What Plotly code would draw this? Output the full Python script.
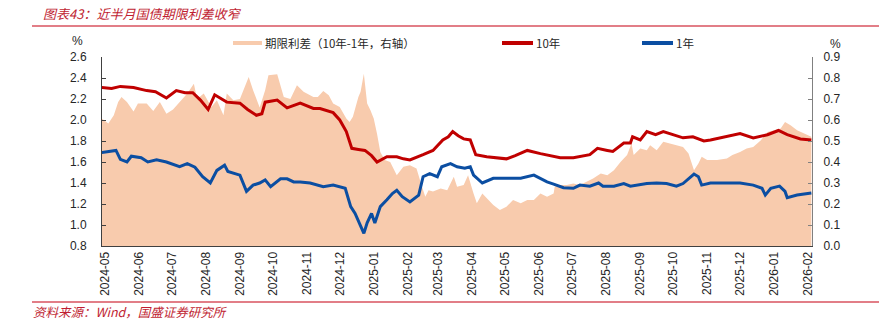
import plotly.graph_objects as go

# ---------------- data ----------------
dates_10y = ["2024-04-28","2024-05-07","2024-05-15","2024-05-27","2024-06-08","2024-06-16","2024-06-26",
             "2024-07-05","2024-07-13","2024-07-20","2024-07-27","2024-08-03","2024-08-09","2024-08-20",
             "2024-09-01","2024-09-08","2024-09-16","2024-09-21","2024-09-24","2024-10-05","2024-10-14",
             "2024-10-26","2024-11-07","2024-11-13","2024-11-25","2024-12-01","2024-12-07","2024-12-12",
             "2024-12-18","2024-12-24","2024-12-30","2025-01-04","2025-01-13","2025-01-22","2025-01-28",
             "2025-02-03","2025-02-15","2025-02-24","2025-03-05","2025-03-10","2025-03-14","2025-03-19",
             "2025-03-24","2025-03-30","2025-04-04","2025-04-14","2025-05-02","2025-05-10","2025-05-21",
             "2025-05-26","2025-06-02","2025-06-20","2025-07-02","2025-07-17","2025-07-24","2025-08-02",
             "2025-08-07","2025-08-17","2025-08-23","2025-08-25","2025-09-01","2025-09-07","2025-09-15",
             "2025-09-22","2025-10-01","2025-10-10","2025-10-19","2025-10-29","2025-11-04","2025-11-22",
             "2025-12-01","2025-12-13","2025-12-26","2026-01-05","2026-01-13","2026-01-25","2026-02-04"]
yield_10y = [2.31,2.30,2.32,2.31,2.28,2.27,2.21,
             2.28,2.26,2.26,2.19,2.10,2.24,2.17,
             2.16,2.10,2.045,2.06,2.17,2.19,2.115,
             2.16,2.11,2.11,2.07,2.00,1.89,1.73,
             1.72,1.71,1.66,1.60,1.65,1.65,1.63,
             1.62,1.67,1.71,1.81,1.84,1.89,1.85,
             1.82,1.81,1.67,1.65,1.63,1.66,1.71,
             1.70,1.68,1.64,1.64,1.67,1.73,1.71,
             1.70,1.78,1.78,1.84,1.81,1.89,1.86,
             1.89,1.86,1.83,1.84,1.80,1.81,1.85,
             1.87,1.83,1.86,1.90,1.86,1.82,1.81]

dates_1y = ["2024-04-28","2024-05-07","2024-05-11","2024-05-15","2024-05-21","2024-05-25","2024-06-03",
            "2024-06-09","2024-06-17","2024-06-26","2024-06-29","2024-07-08","2024-07-15","2024-07-22",
            "2024-07-29","2024-08-05","2024-08-11","2024-08-18","2024-08-21","2024-09-01","2024-09-07",
            "2024-09-13","2024-09-19","2024-09-24","2024-09-29","2024-10-08","2024-10-14","2024-10-20",
            "2024-10-26","2024-11-04","2024-11-16","2024-11-25","2024-12-06","2024-12-11","2024-12-15",
            "2024-12-20","2024-12-23","2024-12-26","2024-12-30","2025-01-02","2025-01-07","2025-01-13",
            "2025-01-18","2025-01-22","2025-01-27","2025-02-03","2025-02-11","2025-02-15","2025-02-21",
            "2025-02-28","2025-03-04","2025-03-12","2025-03-18","2025-03-25","2025-03-30","2025-04-02",
            "2025-04-10","2025-04-20","2025-05-02","2025-05-15","2025-05-27","2025-06-08","2025-06-14",
            "2025-06-23","2025-07-02","2025-07-08","2025-07-17","2025-07-25","2025-07-29","2025-08-08",
            "2025-08-17","2025-08-23","2025-09-07","2025-09-16","2025-09-25","2025-10-04","2025-10-10",
            "2025-10-16","2025-10-20","2025-10-24","2025-10-27","2025-11-04","2025-12-01","2025-12-13",
            "2025-12-21","2025-12-24","2025-12-29","2026-01-06","2026-01-11","2026-01-13","2026-01-22",
            "2026-02-04"]
yield_1y = [1.69,1.70,1.71,1.625,1.60,1.655,1.64,
            1.60,1.62,1.60,1.59,1.555,1.585,1.55,
            1.46,1.40,1.52,1.57,1.51,1.475,1.32,
            1.38,1.40,1.43,1.365,1.44,1.44,1.41,
            1.41,1.40,1.365,1.38,1.35,1.175,1.11,
            1.00,0.92,1.02,1.11,1.02,1.175,1.24,
            1.30,1.33,1.27,1.22,1.285,1.46,1.49,
            1.46,1.555,1.585,1.555,1.54,1.555,1.475,
            1.40,1.445,1.445,1.445,1.475,1.41,1.39,
            1.355,1.35,1.38,1.37,1.40,1.37,1.37,
            1.395,1.37,1.395,1.40,1.395,1.37,1.395,
            1.445,1.485,1.46,1.38,1.40,1.40,1.38,
            1.35,1.285,1.35,1.37,1.32,1.26,1.285,
            1.305]

dates_spread = ["2024-04-28","2024-05-04","2024-05-09","2024-05-13","2024-05-16","2024-05-21","2024-05-27",
                "2024-05-31","2024-06-08","2024-06-14","2024-06-20","2024-06-26","2024-07-02","2024-07-08",
                "2024-07-15","2024-07-21","2024-07-24","2024-07-30","2024-08-06","2024-08-11","2024-08-17",
                "2024-08-20","2024-08-26","2024-09-01","2024-09-09","2024-09-13","2024-09-19","2024-09-24",
                "2024-09-27","2024-10-05","2024-10-11","2024-10-17","2024-10-23","2024-10-29","2024-11-07",
                "2024-11-11","2024-11-16","2024-11-21","2024-11-25","2024-12-01","2024-12-07","2024-12-10",
                "2024-12-13","2024-12-18","2024-12-20","2024-12-23","2024-12-26","2024-12-29","2025-01-01",
                "2025-01-04","2025-01-07","2025-01-11","2025-01-16","2025-01-22","2025-01-28","2025-02-03",
                "2025-02-09","2025-02-14","2025-02-17","2025-02-20","2025-02-24","2025-03-03","2025-03-09",
                "2025-03-15","2025-03-18","2025-03-24","2025-03-28","2025-04-02","2025-04-05","2025-04-10",
                "2025-04-14","2025-04-20","2025-04-26","2025-05-02","2025-05-08","2025-05-15","2025-05-21",
                "2025-05-27","2025-06-02","2025-06-08","2025-06-14","2025-06-15","2025-06-20","2025-06-26",
                "2025-07-02","2025-07-08","2025-07-14","2025-07-20","2025-07-27","2025-08-02","2025-08-08",
                "2025-08-14","2025-08-20","2025-08-24","2025-08-26","2025-09-01","2025-09-07","2025-09-10",
                "2025-09-16","2025-09-22","2025-09-28","2025-10-04","2025-10-10","2025-10-15","2025-10-20",
                "2025-10-24","2025-10-27","2025-11-01","2025-11-10","2025-11-19","2025-11-24","2025-12-01",
                "2025-12-07","2025-12-13","2025-12-20","2025-12-26","2026-01-01","2026-01-07","2026-01-11",
                "2026-01-16","2026-01-22","2026-01-28","2026-02-04"]
spread = [0.607,0.583,0.623,0.686,0.71,0.686,0.64,
          0.678,0.678,0.643,0.686,0.63,0.65,0.686,
          0.726,0.773,0.70,0.726,0.662,0.694,0.623,
          0.726,0.694,0.70,0.805,0.742,0.66,0.742,
          0.813,0.818,0.71,0.70,0.765,0.734,0.71,
          0.71,0.738,0.718,0.678,0.662,0.607,0.59,
          0.615,0.71,0.734,0.82,0.678,0.647,0.607,
          0.535,0.448,0.409,0.40,0.337,0.377,0.385,
          0.369,0.282,0.234,0.266,0.26,0.274,0.266,
          0.33,0.282,0.29,0.337,0.25,0.203,0.25,
          0.227,0.195,0.171,0.187,0.219,0.203,0.219,
          0.219,0.25,0.234,0.25,0.282,0.29,0.29,
          0.298,0.29,0.306,0.322,0.345,0.337,0.361,
          0.40,0.433,0.488,0.433,0.464,0.456,0.48,
          0.456,0.496,0.488,0.48,0.472,0.44,0.361,
          0.393,0.425,0.41,0.41,0.417,0.433,0.448,
          0.464,0.472,0.504,0.543,0.551,0.559,0.59,
          0.575,0.551,0.535,0.52]

tick_dates = ["2024-05-01","2024-06-01","2024-07-01","2024-08-01","2024-09-01","2024-10-01","2024-11-01",
              "2024-12-01","2025-01-01","2025-02-01","2025-03-01","2025-04-01","2025-05-01","2025-06-01",
              "2025-07-01","2025-08-01","2025-09-01","2025-10-01","2025-11-01","2025-12-01","2026-01-01",
              "2026-02-01"]
tick_labels = [d[:7] for d in tick_dates]

names = ["期限利差（10年-1年，右轴）", "10年", "1年"]
title_text = "图表43：近半月国债期限利差收窄"
source_text = "资料来源：Wind，国盛证券研究所"

# ---------------- styles ----------------
C_AREA = "#F8CBAD"
C_10Y = "#C00000"
C_1Y = "#0B4EA2"
C_TITLE = "#C01E32"
C_RULE = "#D9535F"
TICK_FONT = dict(family="Liberation Sans, DejaVu Sans", size=12, color="#262626")
CJK = "Noto Sans CJK SC"

fig = go.Figure()
# area on the primary (right-hand) axis so the lines overlay it
fig.add_trace(go.Scatter(x=dates_spread, y=spread, name=names[0], mode="lines",
                         line=dict(width=0, color=C_AREA), fill="tozeroy", fillcolor=C_AREA,
                         yaxis="y", showlegend=False))
fig.add_trace(go.Scatter(x=dates_10y, y=yield_10y, name=names[1], mode="lines",
                         line=dict(width=3, color=C_10Y), yaxis="y2", showlegend=False))
fig.add_trace(go.Scatter(x=dates_1y, y=yield_1y, name=names[2], mode="lines",
                         line=dict(width=3, color=C_1Y), yaxis="y2", showlegend=False))

fig.update_layout(
    width=879, height=329,
    margin=dict(l=102, r=67, t=57, b=83),
    paper_bgcolor="white", plot_bgcolor="white",
    xaxis=dict(type="date", range=["2024-04-28 06:00", "2026-02-04 14:00"],
               tickvals=tick_dates, ticktext=tick_labels, tickangle=-90,
               tickfont=TICK_FONT, showgrid=False, zeroline=False,
               showline=True, linecolor="#404040", linewidth=1, ticks=""),
    yaxis=dict(side="right", range=[0, 0.9], dtick=0.1, tickformat=".1f",
               tickfont=TICK_FONT, showgrid=False, zeroline=False,
               showline=True, linecolor="#808080", linewidth=1,
               ticks="inside", ticklen=4, tickcolor="#808080", ticklabelstandoff=8),
    yaxis2=dict(side="left", overlaying="y", range=[0.8, 2.6], dtick=0.2, tickformat=".1f",
                tickfont=TICK_FONT, showgrid=False, zeroline=False,
                showline=True, linecolor="#404040", linewidth=1,
                ticks="inside", ticklen=4, tickcolor="#404040", ticklabelstandoff=12),
)

PW, PH, L, T = 710.0, 189.0, 102.0, 57.0
def px(x):
    return (x - L) / PW
def py(y):
    return (T + PH - y) / PH

shapes = []
annotations = []
# title and rules
annotations.append(dict(text=title_text, x=px(41), y=py(13), xref="paper", yref="paper",
                        xanchor="left", yanchor="middle", showarrow=False,
                        font=dict(family=CJK, size=13, color=C_TITLE, style="italic")))
shapes.append(dict(type="line", xref="paper", yref="paper", x0=px(32), x1=px(879),
                   y0=py(26), y1=py(26), line=dict(color=C_RULE, width=1.5)))
shapes.append(dict(type="line", xref="paper", yref="paper", x0=px(32), x1=px(879),
                   y0=py(302), y1=py(302), line=dict(color=C_RULE, width=1.5)))
annotations.append(dict(text=source_text, x=px(31), y=py(311), xref="paper", yref="paper",
                        xanchor="left", yanchor="middle", showarrow=False,
                        font=dict(family=CJK, size=12.5, color=C_TITLE, style="italic")))
# unit labels
annotations.append(dict(text="%", x=px(77), y=py(41), xref="paper", yref="paper",
                        xanchor="center", yanchor="middle", showarrow=False,
                        font=dict(family="Liberation Sans", size=12, color="#262626")))
annotations.append(dict(text="%", x=px(835), y=py(44), xref="paper", yref="paper",
                        xanchor="center", yanchor="middle", showarrow=False,
                        font=dict(family="Liberation Sans", size=12, color="#262626")))
# legend
legend_items = [(233, 262, C_AREA, names[0]), (502, 533, C_10Y, names[1]), (642, 673, C_1Y, names[2])]
for x0, x1, col, nm in legend_items:
    shapes.append(dict(type="line", xref="paper", yref="paper", x0=px(x0), x1=px(x1),
                       y0=py(43), y1=py(43), line=dict(color=col, width=4)))
    annotations.append(dict(text=nm, x=px(x1 + 1), y=py(43), xref="paper", yref="paper",
                            xanchor="left", yanchor="middle", showarrow=False,
                            font=dict(family=CJK, size=11.5, color="#262626")))

fig.update_layout(shapes=shapes, annotations=annotations)
fig.write_html("out.html")
